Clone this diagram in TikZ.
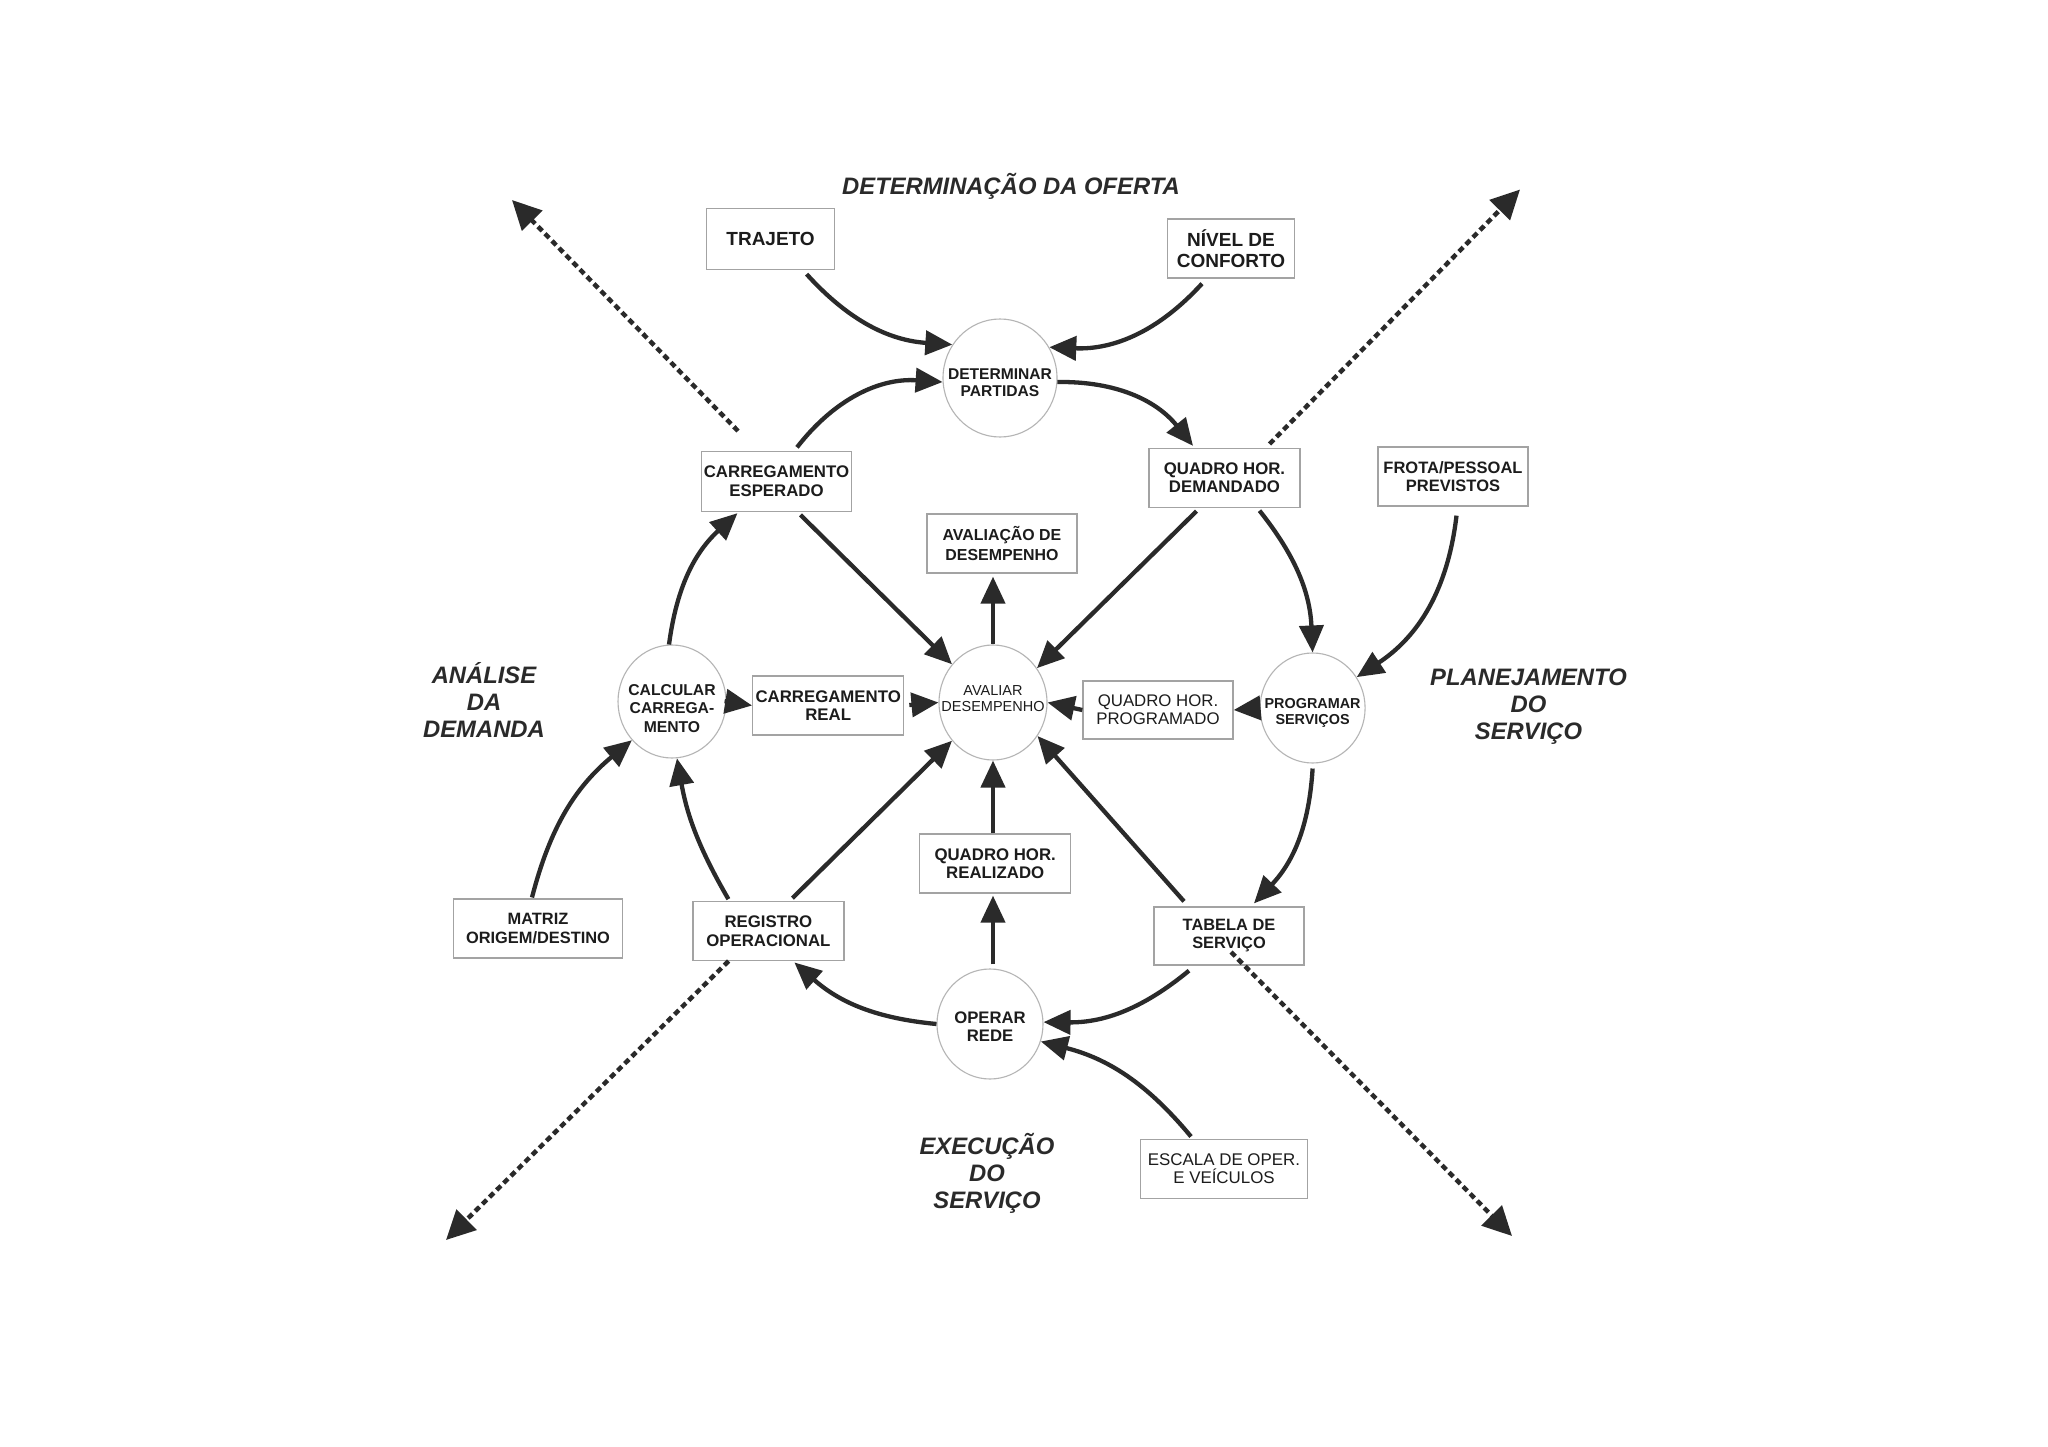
\documentclass[tikz,border=0pt]{standalone}
\usepackage{fontspec}
\setmainfont{Liberation Sans}
\usetikzlibrary{arrows.meta,shapes.geometric}
\definecolor{ink}{HTML}{2A2A2A}
\definecolor{boxline}{HTML}{A3A3A3}
\definecolor{circline}{HTML}{B5B5B5}
\definecolor{txt}{HTML}{1C1C1C}
\newcommand{\fsz}[2]{\fontsize{#1}{#2}\selectfont}
\begin{document}
\begin{tikzpicture}[x=1pt,y=-1pt,
  box/.style={draw=boxline,line width=1.3pt,fill=white,inner sep=0pt,align=center,text=txt},
  circ/.style={ellipse,draw=circline,line width=1.1pt,fill=white,inner sep=0pt},
  ctext/.style={align=center,text=txt,inner sep=0pt},
  arr/.style={draw=ink,line width=4.3pt,-{Triangle[length=27pt,width=24pt]}},
  dotarr/.style={draw=ink,line width=4.5pt,dash pattern=on 6pt off 4pt,-{Triangle[length=29pt,width=28pt]}},
  region/.style={font=\bfseries\itshape\fsz{23.8}{27},text=ink,align=center,inner sep=0pt},
]
\useasboundingbox[fill=white] (0,0) rectangle (2048,1447);

% region labels
\node[region] (tOferta) at (1011,186.7) {DETERMINAÇÃO DA OFERTA};
\node[region] (tAnalise) at (484,700) {ANÁLISE\\DA\\DEMANDA};
\node[region] (tPlan) at (1528.5,706.7) {PLANEJAMENTO\\DO\\SERVIÇO};
\node[region] (tExec) at (987,1173.3) {EXECUÇÃO\\DO\\SERVIÇO};

% boxes
\node[box,minimum width=128pt,minimum height=61pt,font=\bfseries\fsz{19}{21}] (traj) at (770.6,239) {TRAJETO};
\node[box,minimum width=127pt,minimum height=59pt,font=\bfseries\fsz{19}{21}] (niv) at (1231,248.5) {NÍVEL DE\\CONFORTO};
\node[box,minimum width=150pt,minimum height=60pt,font=\bfseries\fsz{16.8}{19.4}] (cesp) at (776.5,481.5) {CARREGAMENTO\\ESPERADO};
\node[box,minimum width=151pt,minimum height=59pt,font=\bfseries\fsz{16.8}{17.8}] (qdem) at (1224.5,478) {QUADRO HOR.\\DEMANDADO};
\node[box,minimum width=150pt,minimum height=59pt,font=\bfseries\fsz{16.5}{17.4}] (frota) at (1453,476.5) {FROTA/PESSOAL\\PREVISTOS};
\node[box,minimum width=150pt,minimum height=59pt,font=\bfseries\fsz{15.9}{19.4}] (aval2) at (1002,543.5) {AVALIAÇÃO DE\\DESEMPENHO};
\node[box,minimum width=151pt,minimum height=59pt,font=\bfseries\fsz{16.8}{18.3}] (creal) at (828.2,705.5) {CARREGAMENTO\\REAL};
\node[box,minimum width=150pt,minimum height=58pt,font=\fsz{16.8}{18.3}] (qprog) at (1158,710) {QUADRO HOR.\\PROGRAMADO};
\node[box,minimum width=151pt,minimum height=59pt,font=\bfseries\fsz{16.8}{18.3}] (qreal) at (995.2,863.5) {QUADRO HOR.\\REALIZADO};
\node[box,minimum width=169pt,minimum height=59pt,font=\bfseries\fsz{16.4}{18.3}] (matriz) at (538,928.6) {MATRIZ\\ORIGEM/DESTINO};
\node[box,minimum width=151pt,minimum height=59pt,font=\bfseries\fsz{16.8}{18.3}] (reg) at (768.4,931.3) {REGISTRO\\OPERACIONAL};
\node[box,minimum width=150pt,minimum height=58pt,font=\bfseries\fsz{16.4}{18}] (tab) at (1229,936) {TABELA DE\\SERVIÇO};
\node[box,minimum width=167pt,minimum height=59pt,font=\fsz{16.9}{18.3}] (escala) at (1224,1168.7) {ESCALA DE OPER.\\E VEÍCULOS};

% circles
\node[circ,minimum width=114pt,minimum height=118pt,
  label={[ctext,font=\bfseries\fsz{15.6}{17.3},yshift=-5pt]center:DETERMINAR\\PARTIDAS}] (det) at (1000,378) {};
\node[circ,minimum width=108pt,minimum height=113pt,
  label={[ctext,font=\bfseries\fsz{15.7}{18.3},yshift=-7pt]center:CALCULAR\\CARREGA-\\MENTO}] (calc) at (672,701.5) {};
\node[circ,minimum width=108pt,minimum height=115pt,
  label={[ctext,font=\fsz{14.5}{16.7},yshift=4pt]center:AVALIAR\\DESEMPENHO}] (aval) at (993,702.5) {};
\node[circ,minimum width=105pt,minimum height=110pt,
  label={[ctext,font=\bfseries\fsz{14.4}{16.7},yshift=-5pt]center:PROGRAMAR\\SERVIÇOS}] (prog) at (1312.6,708) {};
\node[circ,minimum width=106pt,minimum height=110pt,
  label={[ctext,font=\bfseries\fsz{16.7}{18.3},yshift=-3pt]center:OPERAR\\REDE}] (oper) at (990,1024) {};

% solid arrows
\draw[arr] ([xshift=36pt,yshift=-4pt]traj.south) to[bend right=22] (det.145);
\draw[arr] ([xshift=-29pt,yshift=-5pt]niv.south) to[bend left=25] (det.32);
\draw[arr] ([xshift=20.5pt,yshift=3.5pt]cesp.north) to[bend left=28] (det.184);
\draw[arr] (det.-4) to[bend left=26] ([xshift=-31.5pt,yshift=2pt]qdem.north);
\draw[arr] ([xshift=24pt,yshift=-2.8pt]cesp.south) -- (aval.137);
\draw[arr] ([xshift=-28pt,yshift=-3pt]qdem.south) -- (aval.38);
\draw[arr] ([xshift=35pt,yshift=-2.5pt]qdem.south) to[bend left=18] (prog.north);
\draw[arr] ([xshift=3.5pt,yshift=-9pt]frota.south) to[bend left=25] (prog.35);
\draw[arr] (aval.north) -- ([yshift=-3pt]aval.north |- aval2.south);
\draw[arr] (calc.93) to[bend left=20] ([xshift=-39pt,yshift=-1pt]cesp.south);
\draw[arr,shorten <=2pt] (calc.east) -- (creal.west);
\draw[arr,shorten <=5pt] (creal.east) -- (aval.west);
\draw[arr] (qprog.west) -- (aval.east);
\draw[arr,shorten <=2pt] (prog.west) -- (qprog.east);
\draw[arr] ([xshift=-6pt,yshift=1pt]matriz.north) to[bend left=18] (calc.224);
\draw[arr] ([xshift=-40pt,yshift=2pt]reg.north) to[bend left=10] (calc.-85);
\draw[arr] ([xshift=24pt,yshift=3pt]reg.north) -- (aval.223);
\draw[arr] (aval.south |- qreal.north) -- (aval.south);
\draw[arr] ([xshift=-45pt,yshift=5pt]tab.north) -- (aval.-37);
\draw[arr] ([yshift=-5pt]prog.south) to[bend left=20] ([xshift=25pt,yshift=3pt]tab.north);
\draw[arr,shorten <=4pt] (aval.south |- oper.north) -- ([yshift=-2pt]aval.south |- qreal.south);
\draw[arr] (oper.180) to[bend left=18] ([xshift=26pt,yshift=-1pt]reg.south);
\draw[arr] ([xshift=-40pt,yshift=-5pt]tab.south) to[bend left=20] (oper.2);
\draw[arr] ([xshift=-33pt,yshift=2pt]escala.north) to[bend right=18] (oper.-19);

% dotted diagonal arrows
\coordinate (dtl0) at (738,431);
\coordinate (dtl1) at (512,200);
\coordinate (dtr0) at (1269.5,444);
\coordinate (dtr1) at (1520,189.5);
\coordinate (dbl0) at (728.6,961);
\coordinate (dbl1) at (446,1240);
\coordinate (dbr0) at (1231,952);
\coordinate (dbr1) at (1512,1236);
\draw[dotarr] (dtl0) -- (dtl1);
\draw[dotarr] (dtr0) -- (dtr1);
\draw[dotarr] (dbl0) -- (dbl1);
\draw[dotarr] (dbr0) -- (dbr1);
\end{tikzpicture}
\end{document}
